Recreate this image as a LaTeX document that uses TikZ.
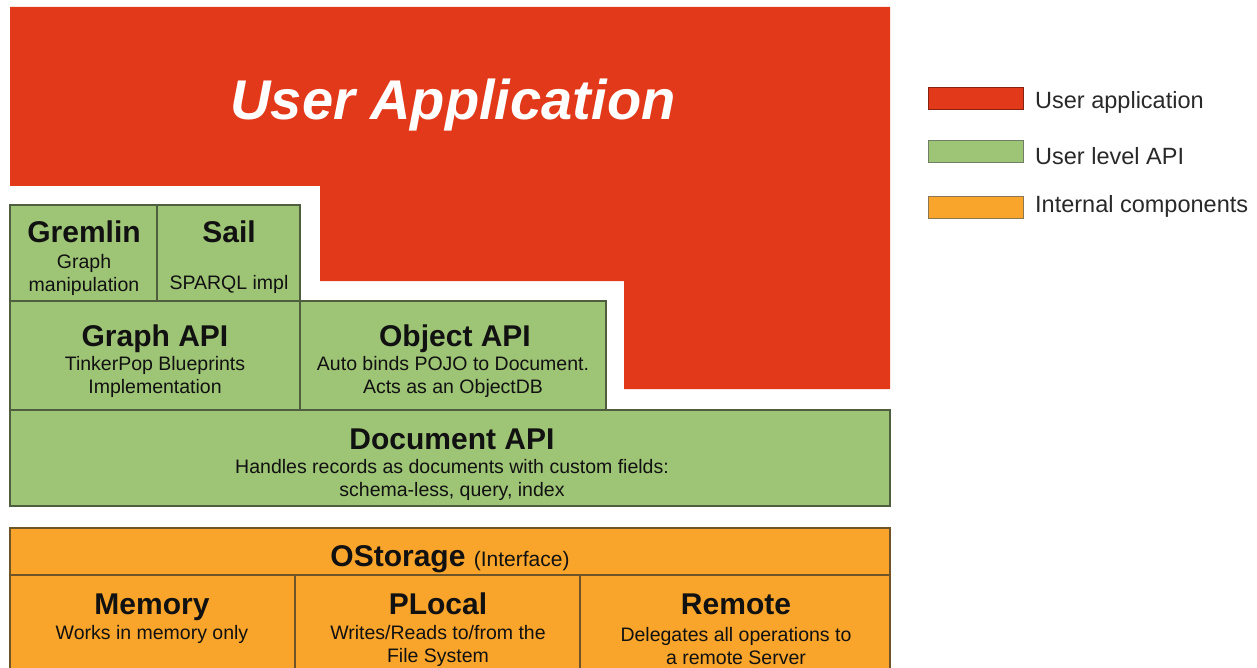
\documentclass[tikz,border=0pt]{standalone}
\usepackage{fontspec}
\setmainfont{Liberation Sans}
\definecolor{appred}{HTML}{E2391A}
\definecolor{apigreen}{HTML}{9EC475}
\definecolor{intorange}{HTML}{F9A52B}
\definecolor{greenline}{HTML}{4E5E3E}
\definecolor{orangeline}{HTML}{6E5426}
\definecolor{txt}{HTML}{111111}
\tikzset{
  gbox/.style={fill=apigreen, draw=greenline, line width=1.1pt},
  obox/.style={fill=intorange, draw=orangeline, line width=1.1pt},
  ttl/.style={font=\fontsize{30}{32}\selectfont\bfseries, text=txt, inner sep=0pt, anchor=base},
  sub/.style={font=\fontsize{19.5}{22.5}\selectfont, text=txt, inner sep=0pt, align=center, anchor=center},
  legtxt/.style={font=\fontsize{23.5}{26}\selectfont, text=txt!90, inner sep=0pt, anchor=west},
}
\begin{document}
\begin{tikzpicture}[x=1pt,y=-1pt]
\useasboundingbox (0,0) rectangle (1257,668);
% red user application shape
\fill[appred] (10,7) -- (890,7) -- (890,389) -- (624,389) -- (624,281) -- (320,281) -- (320,186) -- (10,186) -- cycle;
\node[font=\fontsize{56}{60}\selectfont\bfseries\itshape, text=white, inner sep=0pt, anchor=base] (ua) at (453,120) {User Application};

% green boxes
\draw[gbox] (10,205) rectangle (157,301);
\draw[gbox] (157,205) rectangle (300,301);
\draw[gbox] (10,301) rectangle (300,410);
\draw[gbox] (300,301) rectangle (606,410);
\draw[gbox] (10,410) rectangle (890,506);

\node[ttl] (gremlin) at (84,243) {Gremlin};
\node[sub] (gremlinsub) at (84,275) {Graph\\manipulation};
\node[ttl] (sail) at (229,243) {Sail};
\node[sub] (sailsub) at (229,284) {SPARQL impl};
\node[ttl] (graphapi) at (155,346) {Graph API};
\node[sub] (graphsub) at (155,377) {TinkerPop Blueprints\\Implementation};
\node[ttl] (objapi) at (455,346) {Object API};
\node[sub] (objsub) at (453,377) {Auto binds POJO to Document.\\Acts as an ObjectDB};
\node[ttl] (docapi) at (452,449) {Document API};
\node[sub] (docsub) at (452,480) {Handles records as documents with custom fields:\\schema-less, query, index};

% orange boxes
\draw[obox] (10,528) rectangle (890,575);
\draw[obox] (10,575) rectangle (295,680);
\draw[obox] (295,575) rectangle (580,680);
\draw[obox] (580,575) rectangle (890,680);

\node[inner sep=0pt, text=txt, anchor=base] (ostorage) at (450,566) {\fontsize{30}{32}\selectfont\bfseries OStorage \fontsize{21}{24}\mdseries\selectfont(Interface)};
\node[ttl] (memory) at (152,614) {Memory};
\node[sub] (memsub) at (152,634) {Works in memory only};
\node[ttl] (plocal) at (438,614) {PLocal};
\node[sub] (plocalsub) at (438,646) {Writes/Reads to/from the\\File System};
\node[ttl] (remote) at (736,614) {Remote};
\node[sub] (remotesub) at (736,646) {Delegates all operations to\\a remote Server};

% legend
\draw[fill=appred, draw=appred!60!black, line width=1pt] (928,88) rectangle (1023,110);
\draw[fill=apigreen, draw=greenline!80, line width=1pt] (928,141) rectangle (1023,163);
\draw[fill=intorange, draw=orangeline!80, line width=1pt] (928,197) rectangle (1023,219);
\node[legtxt] (leg1) at (1035,102) {User application};
\node[legtxt] (leg2) at (1035,156) {User level API};
\node[legtxt] (leg3) at (1035,206) {Internal components};
\end{tikzpicture}
\end{document}
